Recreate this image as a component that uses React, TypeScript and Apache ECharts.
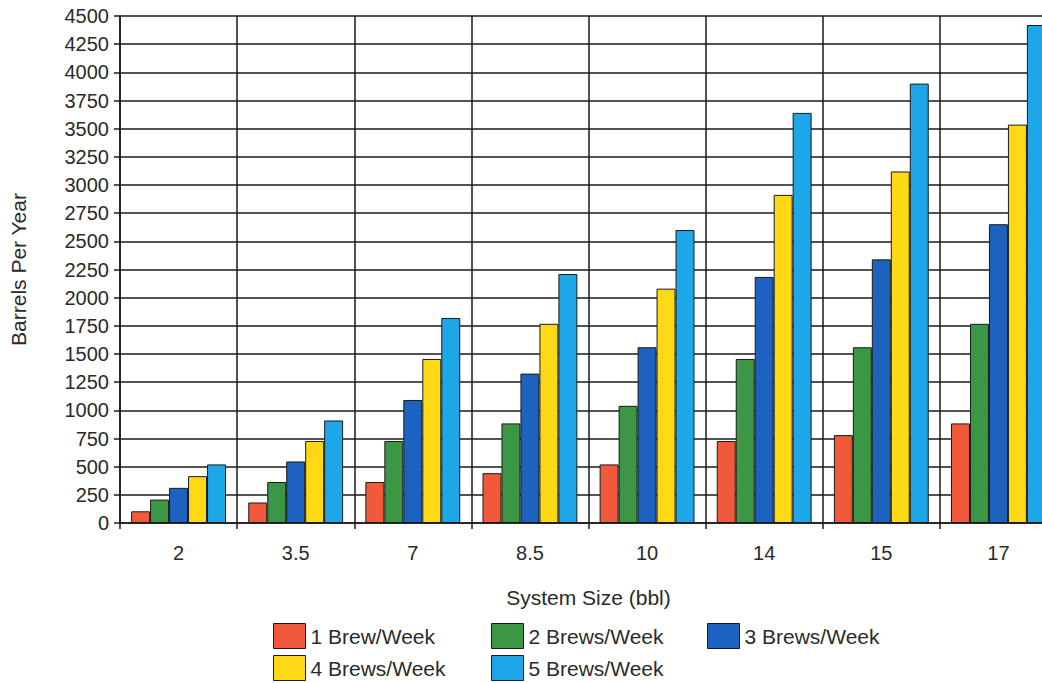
import React, { useEffect, useRef } from "react";
import * as echarts from "echarts";

// System sizes (bbl) along the category axis
const systemSizes = ["2", "3.5", "7", "8.5", "10", "14", "15", "17"];

// Barrels per year for each brewing frequency
const oneBrew = [104, 182, 364, 442, 520, 728, 780, 884];
const twoBrews = [208, 364, 728, 884, 1040, 1456, 1560, 1768];
const threeBrews = [312, 546, 1092, 1326, 1560, 2184, 2340, 2652];
const fourBrews = [416, 728, 1456, 1768, 2080, 2912, 3120, 3536];
const fiveBrews = [520, 910, 1820, 2210, 2600, 3640, 3900, 4420];

const seriesNames = [
  "1 Brew/Week",
  "2 Brews/Week",
  "3 Brews/Week",
  "4 Brews/Week",
  "5 Brews/Week",
];
const seriesData = [oneBrew, twoBrews, threeBrews, fourBrews, fiveBrews];
const seriesColors = ["#F05A3A", "#3B9645", "#1E62BF", "#FFD816", "#1DA6E8"];

const FONT = 'Arial, "Liberation Sans", sans-serif';
const TEXT = "#2a2a2a";
const INK = "#1a1a1a";

// Legend placement: two rows of column-aligned entries
const legendSlots = [
  { left: 273, top: 623 },
  { left: 491, top: 623 },
  { left: 707, top: 623 },
  { left: 273, top: 655 },
  { left: 491, top: 655 },
];

export default function App() {
  const ref = useRef<HTMLDivElement>(null);

  useEffect(() => {
    if (!ref.current) return;
    const chart = echarts.init(ref.current, undefined, { renderer: "svg" });

    chart.setOption({
      animation: false,
      backgroundColor: "#ffffff",
      textStyle: { fontFamily: FONT },
      grid: { left: 119, top: 16, right: 3, height: 507, containLabel: false },
      legend: seriesNames.map((name, i) => ({
        data: [name],
        left: legendSlots[i].left,
        top: legendSlots[i].top,
        padding: 0,
        orient: "horizontal",
        icon: "rect",
        itemWidth: 32,
        itemHeight: 25,
        itemGap: 0,
        selectedMode: false,
        textStyle: { fontSize: 21, color: TEXT, fontFamily: FONT },
        itemStyle: { borderColor: INK, borderWidth: 1 },
      })),
      xAxis: {
        type: "category",
        data: systemSizes,
        name: "System Size (bbl)",
        nameLocation: "middle",
        nameGap: 64,
        nameTextStyle: { fontSize: 21, color: TEXT, fontFamily: FONT },
        axisLine: { show: true, lineStyle: { color: INK, width: 1.5 } },
        axisTick: { show: true, length: 6, lineStyle: { color: INK, width: 1.5 } },
        axisLabel: { fontSize: 20, color: TEXT, margin: 20, fontFamily: FONT },
        splitLine: { show: true, lineStyle: { color: INK, width: 1.5 } },
      },
      yAxis: {
        type: "value",
        min: 0,
        max: 4500,
        interval: 250,
        name: "Barrels Per Year",
        nameLocation: "middle",
        nameGap: 91,
        nameRotate: 90,
        nameTextStyle: { fontSize: 21, color: TEXT, fontFamily: FONT },
        axisLine: { show: true, lineStyle: { color: INK, width: 1.5 } },
        axisTick: { show: true, length: 6, lineStyle: { color: INK, width: 1.5 } },
        axisLabel: {
          fontSize: 20,
          color: TEXT,
          margin: 11,
          fontFamily: FONT,
          formatter: (v: number) => String(v),
        },
        splitLine: { show: true, lineStyle: { color: INK, width: 1.5 } },
      },
      series: seriesNames.map((name, i) => ({
        name,
        type: "bar",
        data: seriesData[i],
        barGap: "0%",
        barCategoryGap: "19%",
        itemStyle: { color: seriesColors[i], borderColor: INK, borderWidth: 1 },
      })),
    });

    return () => chart.dispose();
  }, []);

  // The chart is wider than the visible frame so the plot area runs off its right edge.
  return (
    <div
      style={{
        position: "absolute",
        left: 0,
        top: 0,
        width: 1042,
        height: 683,
        overflow: "hidden",
        background: "#ffffff",
      }}
    >
      <div ref={ref} style={{ width: 1060, height: 683 }} />
    </div>
  );
}
